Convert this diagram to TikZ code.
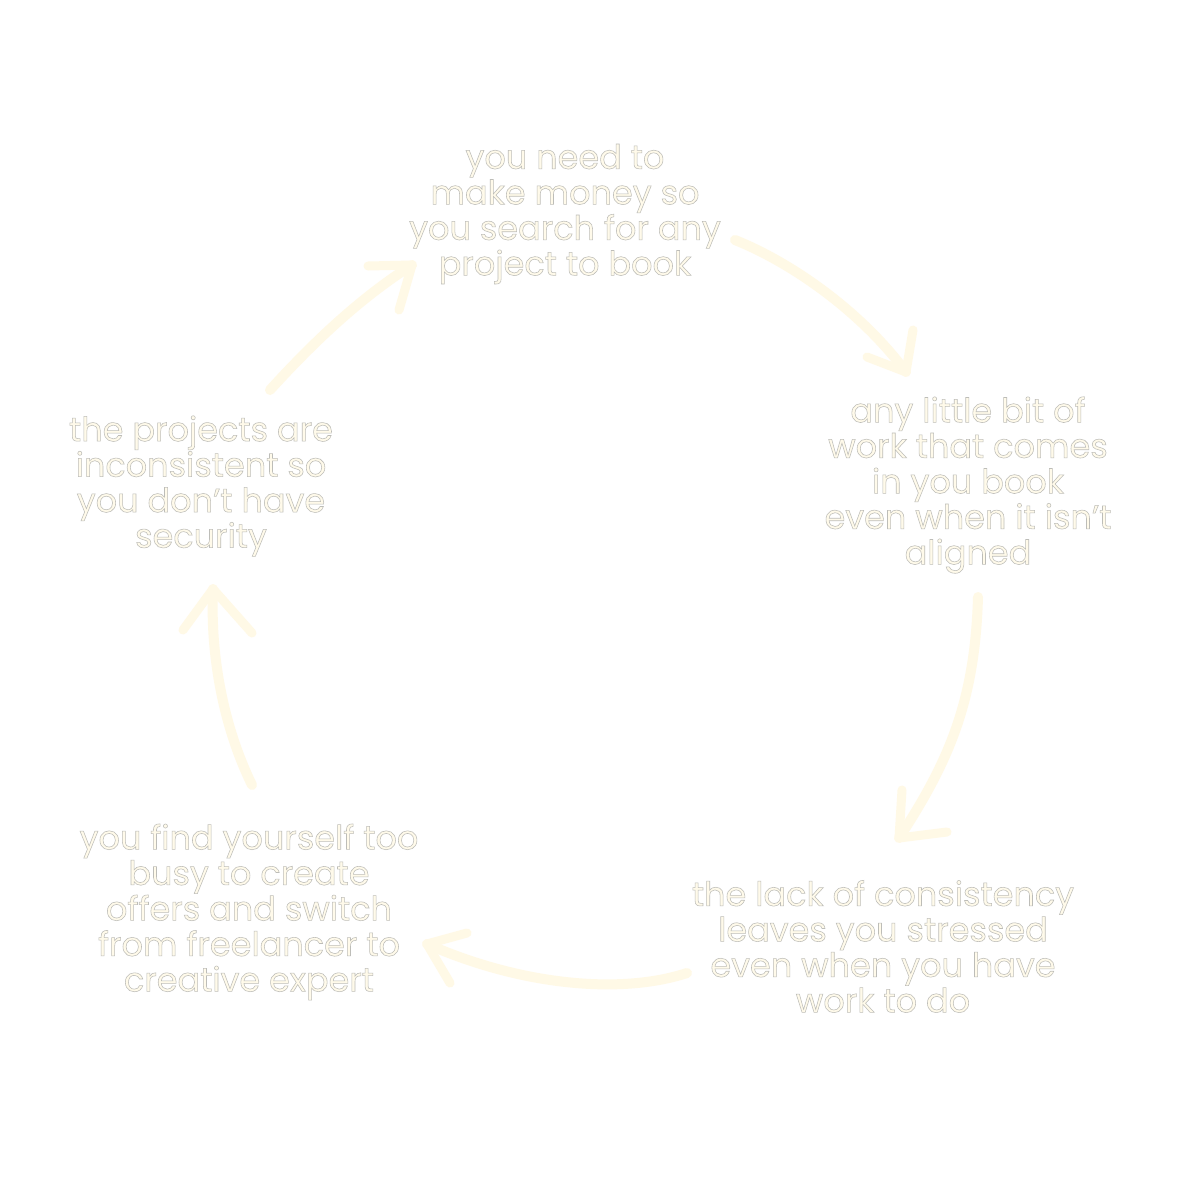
\documentclass[tikz,border=0pt]{standalone}
\usepackage{fontspec}
\setmainfont{Poppins}
\definecolor{cream}{RGB}{255,250,234}
\definecolor{arrowc}{RGB}{255,249,230}
\newcommand{\outltxt}[1]{\special{pdf:literal direct 2 Tr 0.55 w 0.74 0.74 0.72 RG}#1\special{pdf:literal direct 0 Tr}}
\tikzset{
  txt/.style={align=center, font=\fontsize{33.5}{35.5}\selectfont, text=cream, inner sep=0pt},
  shaft/.style={draw=arrowc, line width=10pt, line cap=round, line join=round},
  headstroke/.style={draw=arrowc, line width=9pt, line cap=round, line join=round}
}
\begin{document}
\begin{tikzpicture}[x=1pt,y=-1pt]
\useasboundingbox (0,0) rectangle (1200,1200);
\fill[white] (0,0) rectangle (1200,1200);
% arrows
\coordinate (a1s) at (270,390); \coordinate (a1e) at (412,265);
\draw[shaft] (a1s) .. controls (320,335) and (365,295) .. (a1e);
\draw[headstroke] (368,266) -- (a1e) -- (399,310);
\coordinate (a2s) at (735,240); \coordinate (a2e) at (906,372);
\draw[shaft] (a2s) .. controls (790,262) and (860,310) .. (a2e);
\draw[headstroke] (913,330) -- (a2e) -- (867,357);
\coordinate (a3s) at (978,597); \coordinate (a3e) at (899,838);
\draw[shaft] (a3s) .. controls (975,700) and (950,760) .. (a3e);
\draw[headstroke] (902,790) -- (a3e) -- (947,832);
\coordinate (a4s) at (687,973); \coordinate (a4e) at (427,944);
\draw[shaft] (a4s) .. controls (620,995) and (520,985) .. (a4e);
\draw[headstroke] (467,933) -- (a4e) -- (450,983);
\coordinate (a5s) at (252,785); \coordinate (a5e) at (213,589);
\draw[shaft] (a5s) .. controls (225,730) and (210,660) .. (a5e);
\draw[headstroke] (183,630) -- (a5e) -- (252,633);
% texts
\node[txt] (t1) at (565,214) {\outltxt{you need to\\make money so\\you search for any\\project to book}};
\node[txt] (t2) at (968,485) {\outltxt{any little bit of\\work that comes\\in you book\\even when it isn’t\\aligned}};
\node[txt] (t3) at (883,946.5) {\outltxt{the lack of consistency\\leaves you stressed\\even when you have\\work to do}};
\node[txt] (t4) at (249,912) {\outltxt{you find yourself too\\busy to create\\offers and switch\\from freelancer to\\creative expert}};
\node[txt] (t5) at (201,486) {\outltxt{the projects are\\inconsistent so\\you don’t have\\security}};
\end{tikzpicture}
\end{document}
